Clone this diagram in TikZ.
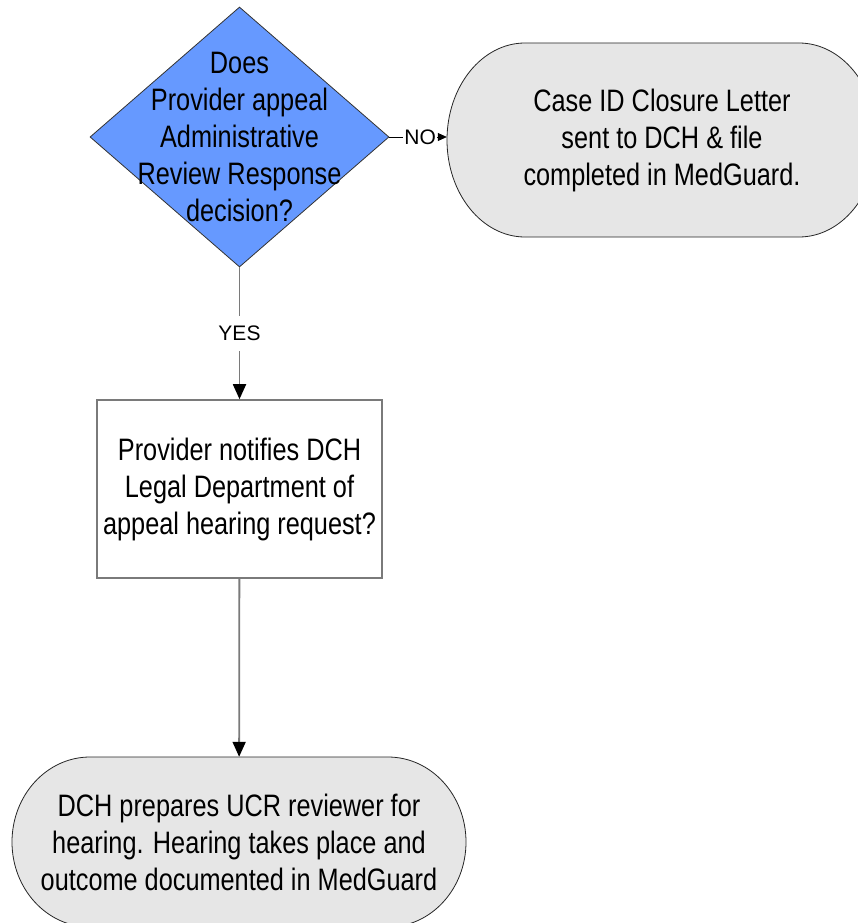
\documentclass[tikz,border=0pt]{standalone}
\usepackage{fontspec}
\setmainfont{Liberation Sans}
\newfontfamily\narrowfont[FakeStretch=0.816]{Liberation Sans}
\usetikzlibrary{shapes.geometric}
\usetikzlibrary{arrows.meta}
\usetikzlibrary{calc}

\definecolor{decblue}{HTML}{6699FF}
\definecolor{termgray}{HTML}{E6E6E6}
\definecolor{linegray}{HTML}{7A7A7A}

\tikzset{
  decision/.style={diamond, draw=black!80, fill=decblue, line width=0.8pt, minimum width=299pt, minimum height=260pt, inner sep=0pt},
  boxtext/.style={align=center, font=\narrowfont\fontsize{31}{37}\selectfont, inner sep=0pt},
  procbox/.style={rectangle, draw=linegray, line width=1.6pt, minimum width=285pt, minimum height=178pt},
  termline/.style={draw=black!85, fill=termgray, line width=0.8pt},
  conn/.style={draw=linegray, line width=1.8pt, -{Triangle[length=15pt,width=13pt,black]}},
  noline/.style={draw=black, line width=0.8pt, -{Triangle[length=9pt,width=8pt]}},
  lab/.style={font=\fontsize{21}{24}\selectfont, fill=white, inner xsep=1pt, inner ysep=10pt},
}

\begin{document}
\begin{tikzpicture}[x=1pt, y=-1pt]
  \useasboundingbox (0,0) rectangle (858,923);

  % Contours des terminaux
  \path[termline] (525,43) -- (799,43) arc[start angle=90, end angle=-90, x radius=78pt, y radius=97pt]
    -- (525,237) arc[start angle=270, end angle=90, x radius=78pt, y radius=97pt] -- cycle;
  \path[termline] (90,757) -- (388,757) arc[start angle=90, end angle=-90, x radius=78pt, y radius=85pt]
    -- (90,927) arc[start angle=270, end angle=90, x radius=78pt, y radius=85pt] -- cycle;

  \node[decision] (dec) at (239.5,137) {};
  \node[boxtext] at (dec) {Does\\Provider appeal\\Administrative\\Review Response\\decision?};
  \node[boxtext, minimum width=430pt, minimum height=194pt] (close) at (662,140)
    {Case ID Closure Letter\\sent to DCH \& file\\completed in MedGuard.};
  \node[procbox, boxtext] (notify) at (239.5,489)
    {Provider notifies DCH\\Legal Department of\\appeal hearing request?};
  \node[boxtext, minimum width=454pt, minimum height=170pt] (hearing) at (239,842)
    {DCH prepares UCR reviewer for\\hearing. Hearing takes place and\\outcome documented in MedGuard};

  % Flèches entre les cases
  \draw[conn] (dec) -- node[lab] {YES} (notify);
  \draw[conn] (notify) -- (hearing);
  \draw[noline] (dec.east) -- node[lab, xshift=2pt] {NO} (close.west |- dec.east);

\end{tikzpicture}
\end{document}
